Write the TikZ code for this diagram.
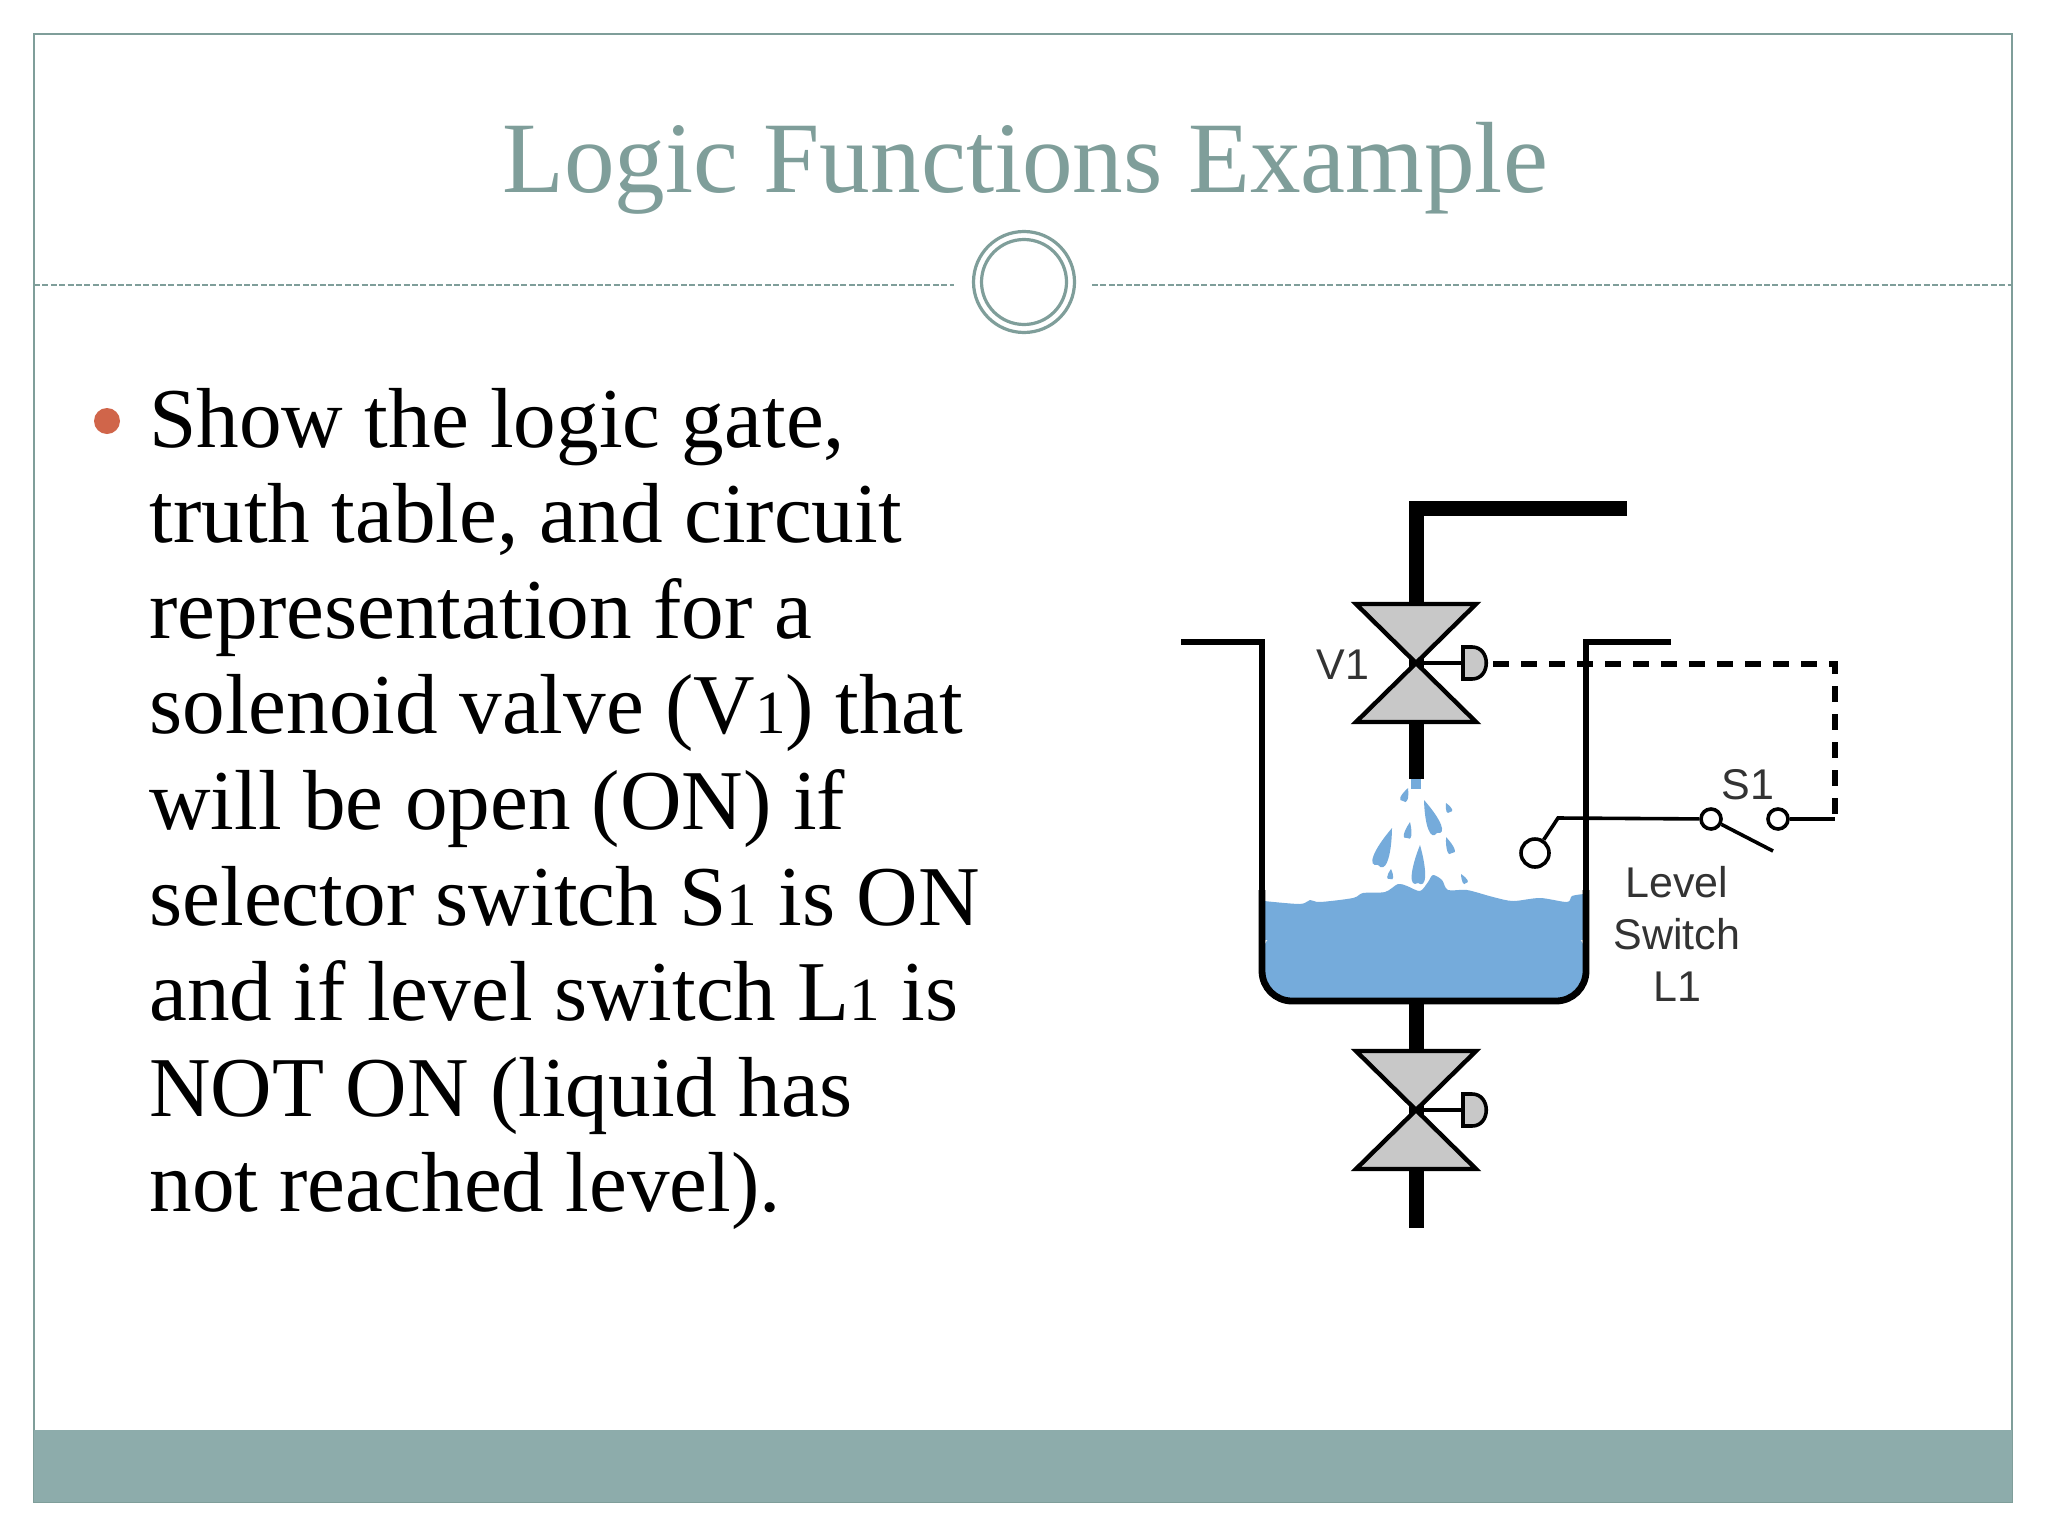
\documentclass[tikz,border=0pt]{standalone}
\usepackage{fontspec}
\setmainfont{Liberation Serif}
\newfontfamily\labelfont{Liberation Sans}
\usetikzlibrary{positioning, calc}

\definecolor{slidegreen}{HTML}{7F9E9A}
\definecolor{bandgreen}{HTML}{8DACAB}
\definecolor{bulletred}{HTML}{D0654A}
\definecolor{waterblue}{HTML}{75ABDB}
\definecolor{valvegray}{HTML}{C8C8C8}

\tikzset{
    pipe/.style={line width=7.5pt, line join=miter},
    tankwall/.style={line width=3.4pt},
    wire/.style={line width=1.8pt},
    signal/.style={line width=2.6pt, dash pattern=on 8pt off 6pt},
    contact/.style={draw, circle, line width=1.8pt, inner sep=0pt, fill=white},
    tag/.style={font=\labelfont\fontsize{21.5}{26}\selectfont, text=black!80},
    bodyline/.style={anchor=base west, inner sep=0pt, font=\fontsize{42.6}{48}\selectfont},
    waterfill/.style={fill=waterblue},
    solvalve/.pic={
        \draw [line width=2.2pt, fill=valvegray] (-60, -59) -- (60, -59) -- (-60, 59) -- (60, 59) -- cycle;
        \draw [line width=1.8pt] (0, 0) -- (47, 0);
        \draw [line width=1.8pt, fill=valvegray] (47, -16) -- (56, -16) .. controls (75, -16) and (75, 16) .. (56, 16) -- (47, 16) -- cycle;
    }
}

\newcommand{\oldone}{\scalebox{.72}{1}}
\newcommand{\waterdrop}[3]{
    \fill [waterfill] #1 .. controls ($#1!.7!#2!#3!90:#2$) and ($#1!1.15!#2!#3!-90:#2$) .. #2
        .. controls ($#1!1.15!#2!#3!90:#2$) and ($#1!.7!#2!#3!-90:#2$) .. #1 -- cycle;
}

\begin{document}
\begin{tikzpicture}[x=.5pt, y=-.5pt]
    \useasboundingbox (0, 0) rectangle (2048, 1536);

    % slide frame
    \fill [white] (0, 0) rectangle (2048, 1536);
    \draw [slidegreen, line width=1pt] (34, 34) rectangle (2012, 1502);
    \fill [bandgreen] (34, 1430) rectangle (2012, 1502);

    % title
    \node (title) [anchor=base, inner sep=0pt, text=slidegreen, font=\fontsize{50.6}{60}\selectfont] at (1025, 192) {Logic Functions Example};
    \coordinate (ruleA) at (34, 285);
    \coordinate (ruleB) at (954, 285);
    \coordinate (ruleC) at (1092, 285);
    \coordinate (ruleD) at (2012, 285);
    \draw [slidegreen, line width=.8pt, dash pattern=on 3pt off 1.2pt] (ruleA) -- (ruleB);
    \draw [slidegreen, line width=.8pt, dash pattern=on 3pt off 1.2pt] (ruleC) -- (ruleD);
    \draw [slidegreen, line width=1.6pt] (1024, 282) circle [radius=50.5];
    \draw [slidegreen, line width=1.6pt] (1024, 282) circle [radius=42.5];

    % bullet text
    \fill [bulletred] (107, 421) circle [radius=13];
    \node (lineA) [bodyline] at (149, 447) {Show the logic gate,};
    \node (lineB) [bodyline] at (149, 542.6) {truth table, and circuit};
    \node (lineC) [bodyline] at (149, 638.2) {representation for a};
    \node (lineD) [bodyline] at (149, 733.8) {solenoid valve (V\oldone) that};
    \node (lineE) [bodyline] at (149, 829.4) {will be open (ON) if};
    \node (lineF) [bodyline] at (149, 925) {selector switch S\oldone\ is ON};
    \node (lineG) [bodyline] at (149, 1020.6) {and if level switch L\oldone\ is};
    \node (lineH) [bodyline] at (149, 1116.2) {NOT ON (liquid has};
    \node (lineI) [bodyline] at (149, 1211.8) {not reached level).};

    % water
    \fill [waterfill, rounded corners=13pt] (1262, 930) -- (1262, 999) -- (1586, 999) -- (1586, 930) -- cycle;
    \fill [waterfill] plot [smooth, tension=.5] coordinates {(1264, 901) (1300, 904) (1310, 900) (1320, 902) (1353, 898) (1363, 893) (1385, 892) (1398, 884) (1407, 886) (1420, 891) (1428, 882) (1433, 875) (1442, 880) (1448, 890) (1467, 890) (1493, 897) (1513, 901) (1540, 898) (1567, 902) (1572, 896) (1584, 894)} -- (1584, 940) -- (1264, 940) -- cycle;
    \fill [waterfill] (1411, 779) rectangle (1421, 789);
    \waterdrop{(1408, 788)}{(1403, 801)}{2.5pt}
    \waterdrop{(1424, 800)}{(1437, 833)}{4.5pt}
    \waterdrop{(1446, 803)}{(1450, 812)}{2pt}
    \waterdrop{(1410, 822)}{(1407, 838)}{2.5pt}
    \waterdrop{(1392, 828)}{(1378, 865)}{5pt}
    \waterdrop{(1446, 837)}{(1452, 853)}{2.5pt}
    \waterdrop{(1420, 845)}{(1418, 883)}{4.5pt}
    \waterdrop{(1391, 869)}{(1390, 879)}{2pt}
    \waterdrop{(1461, 874)}{(1466, 883)}{1.8pt}

    % pipes
    \coordinate (feedEnd) at (1627, 508.5);
    \coordinate (feedBend) at (1416, 508.5);
    \coordinate (valveA) at (1416, 663);
    \coordinate (valveB) at (1416, 1110);
    \coordinate (spout) at (1416, 779);
    \coordinate (tankOut) at (1416, 1001);
    \coordinate (drainEnd) at (1416, 1228);
    \draw [pipe] (feedEnd) -- (feedBend) -- (valveA);
    \draw [pipe] (valveA) -- (spout);
    \draw [pipe] (tankOut) -- (drainEnd);

    % tank
    \draw [tankwall] (1181, 642) -- (1262, 642) -- (1262, 900);
    \draw [tankwall] (1586, 900) -- (1586, 642) -- (1671, 642);
    \draw [tankwall, rounded corners=15pt] (1262, 890) -- (1262, 1001) -- (1586, 1001) -- (1586, 890);

    % valves
    \pic at (valveA) {solvalve};
    \pic at (valveB) {solvalve};

    % signal line and switches
    \node (contactA) [contact, minimum size=10pt] at (1711, 819) {};
    \node (contactB) [contact, minimum size=10pt] at (1778, 819) {};
    \node (ball) [contact, minimum size=14pt] at (1535, 853) {};
    \coordinate (bend) at (1558, 818);
    \coordinate (bladeEnd) at (1773, 851);
    \coordinate (corner) at (1835, 819);
    \coordinate (sigStart) at (1493, 664);
    \coordinate (sigCorner) at (1835, 664);
    \draw [wire] (ball) -- (bend) -- (contactA);
    \draw [wire] (contactA) -- (bladeEnd);
    \draw [wire] (contactB) -- (corner);
    \draw [signal] (sigStart) -- (sigCorner) -- (corner);

    % labels
    \node (V1) [tag, inner sep=0pt] at (1343, 665) {V1};
    \node (S1) [tag, inner sep=0pt] at (1748, 785) {S1};
    \node (L1) [tag, inner sep=0pt, align=center] at (1677, 934) {Level\\Switch\\L1};
\end{tikzpicture}
\end{document}
